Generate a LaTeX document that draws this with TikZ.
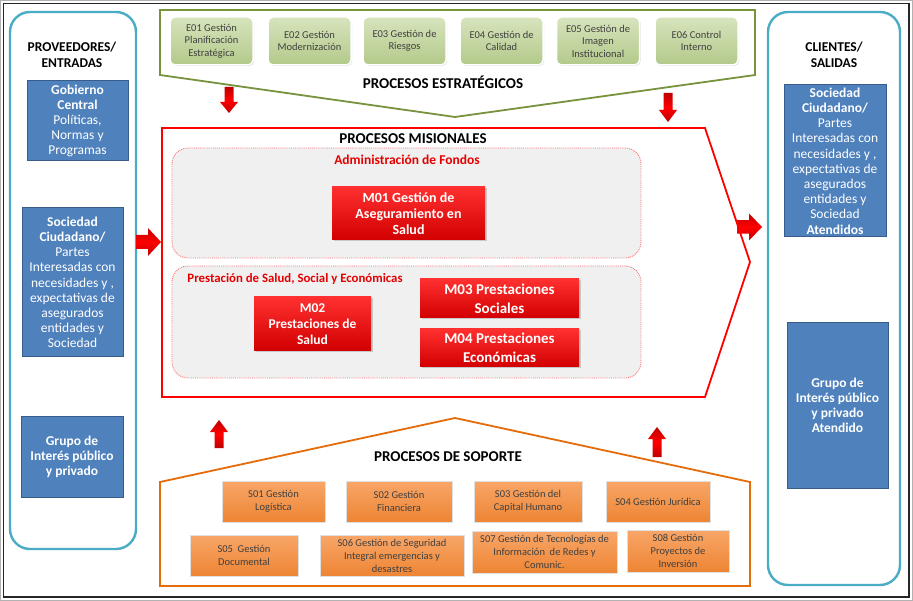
\documentclass[tikz,border=0pt]{standalone}
\usepackage{fontspec}
\setmainfont{Carlito}
\usetikzlibrary{shadows}
\definecolor{teal1}{HTML}{4BACC6}
\definecolor{blue1}{HTML}{4F81BD}
\definecolor{blue2}{HTML}{385D8A}
\definecolor{olive1}{HTML}{77933C}
\definecolor{greenA}{HTML}{D7E4BD}
\definecolor{greenB}{HTML}{B3C98A}
\definecolor{orangeA}{HTML}{F8A668}
\definecolor{orangeB}{HTML}{EE8534}
\definecolor{orange2}{HTML}{E46C0A}
\definecolor{redA}{HTML}{FF3030}
\definecolor{redB}{HTML}{D20000}
\definecolor{txtgray}{HTML}{404040}
\definecolor{dashgray}{HTML}{F0F0F0}
\tikzset{
  x=1pt, y=-1pt,
  panel/.style={draw=teal1, line width=2.4pt, rounded corners=20pt},
  head/.style={font=\fontsize{13.5}{16}\selectfont\bfseries, align=center, inner sep=0pt},
  bighead/.style={font=\fontsize{15}{17}\selectfont\bfseries, inner sep=0pt},
  bluebox/.style={draw=blue2, line width=1pt, fill=blue1, text=white, align=center,
    inner sep=0pt, font=\fontsize{13.5}{15.2}\selectfont},
  ebox/.style={top color=greenA, bottom color=greenB, draw=white, line width=1.5pt,
    rounded corners=5pt, minimum width=83pt, minimum height=48pt, align=center,
    text=txtgray, inner sep=0pt, font=\fontsize{10.5}{12.5}\selectfont,
    drop shadow={opacity=0.3, shadow xshift=1pt, shadow yshift=-1pt}},
  mbox/.style={top color=redA, bottom color=redB, draw=none, align=center, text=white,
    inner sep=0pt, font=\fontsize{14}{16}\selectfont\bfseries,
    drop shadow={opacity=0.35, shadow xshift=1.5pt, shadow yshift=-1.5pt}},
  sbox/.style={top color=orangeA, bottom color=orangeB, draw=black!12, line width=0.8pt,
    align=center, text=txtgray, inner sep=0pt, minimum height=41pt,
    font=\fontsize{10.5}{13}\selectfont,
    drop shadow={opacity=0.25, shadow xshift=1pt, shadow yshift=-1pt}},
  groupbox/.style={fill=dashgray, draw=red!55, densely dotted, line width=0.9pt, rounded corners=16pt},
  grouplabel/.style={text=red!90!black, font=\fontsize{13.5}{15}\selectfont\bfseries, inner sep=0pt},
  arrowfill/.style={top color=red!75!black, bottom color=red!75!black, middle color=red},
  pics/barrow/.style n args={3}{code={
    \path[arrowfill] (0,-#2/2) -- ({#1-#3},-#2/2) -- ({#1-#3},-#2) -- (#1,0)
      -- ({#1-#3},#2) -- ({#1-#3},#2/2) -- (0,#2/2) -- cycle;}}
}
\begin{document}
\begin{tikzpicture}
\useasboundingbox (0,0) rectangle (913,601);
\fill[white] (0,0) rectangle (913,601);
\draw[gray!60, line width=1pt] (0.5,0.5) rectangle (912.5,600.5);
\draw[black!85, line width=1.5pt] (3.5,3.5) rectangle (909,597);

% side panels
\draw[panel] (10,12) rectangle (136,549);
\draw[panel] (768,12) rectangle (900,585);
\node[head] (prov) at (72,55) {PROVEEDORES/\\ENTRADAS};
\node[head] (cli) at (834,55) {CLIENTES/\\SALIDAS};

\node[bluebox, minimum width=101pt, minimum height=80pt] (L1) at (77.5,121)
  {\textbf{Gobierno}\\\textbf{Central}\\Políticas,\\Normas y\\Programas};
\node[bluebox, minimum width=101pt, minimum height=149pt] (L2) at (72.5,282.5)
  {\textbf{Sociedad}\\\textbf{Ciudadano/}\\Partes\\Interesadas con\\necesidades y ,\\expectativas de\\asegurados\\entidades y\\Sociedad};
\node[bluebox, minimum width=102pt, minimum height=80pt] (L3) at (72,457)
  {\textbf{Grupo de}\\\textbf{Interés público}\\\textbf{y privado}};
\node[bluebox, minimum width=102pt, minimum height=152pt] (R1) at (835,161)
  {\textbf{Sociedad}\\\textbf{Ciudadano/}\\Partes\\Interesadas con\\necesidades y ,\\expectativas de\\asegurados\\entidades y\\Sociedad\\\textbf{Atendidos}};
\node[bluebox, minimum width=101pt, minimum height=165pt] (R2) at (837.5,405.5)
  {\textbf{Grupo de}\\\textbf{Interés público}\\\textbf{y privado}\\\textbf{Atendido}};

% strategic processes
\draw[olive1, line width=1.8pt, line join=miter] (160,10) -- (755,10) -- (755,75) -- (455,117) -- (160,75) -- cycle;
\node[ebox] (E01) at (211.5,41) {E01 Gestión\\Planificación\\Estratégica};
\node[ebox] (E02) at (309.5,41) {E02 Gestión\\Modernización};
\node[ebox] (E03) at (404.5,41) {E03 Gestión de\\Riesgos};
\node[ebox] (E04) at (501.5,41) {E04 Gestión de\\Calidad};
\node[ebox] (E05) at (598,41) {E05 Gestión de\\Imagen\\Institucional};
\node[ebox] (E06) at (696.5,41) {E06 Control\\Interno};
\node[bighead] (pe) at (443,82) {PROCESOS ESTRATÉGICOS};

% block arrows
\pic[rotate=-90] at (229,87) {barrow={26}{9}{11}};
\pic[rotate=-90] at (668,93) {barrow={29}{9}{12}};
\pic at (136,242) {barrow={25}{14}{13}};
\pic at (737,227) {barrow={25}{13.5}{13}};
\pic[rotate=90] at (219,448) {barrow={28}{9}{12}};
\pic[rotate=90] at (657,457) {barrow={30}{9}{12}};

% mission processes
\draw[red, line width=1.8pt, line join=miter] (162,128) -- (705,128) -- (750,262) -- (705,397) -- (162,397) -- cycle;
\node[bighead] (pm) at (413,139) {PROCESOS MISIONALES};
\draw[groupbox] (172,148) rectangle (641,258);
\draw[groupbox] (172,266) rectangle (641,378);
\node[grouplabel] (af) at (407,160) {Administración de Fondos};
\node[grouplabel, font=\fontsize{12.8}{15}\selectfont\bfseries] (ps) at (295,279) {Prestación de Salud, Social y Económicas};
\node[mbox, minimum width=153pt, minimum height=53pt] (M01) at (408.5,213.5) {M01 Gestión de\\Aseguramiento en\\Salud};
\node[mbox, minimum width=117pt, minimum height=54pt, font=\fontsize{13.5}{16}\selectfont\bfseries] (M02) at (312.5,324) {M02\\Prestaciones de\\Salud};
\node[mbox, minimum width=159pt, minimum height=39pt, font=\fontsize{15}{19}\selectfont\bfseries] (M03) at (499.5,298.5) {M03 Prestaciones\\Sociales};
\node[mbox, minimum width=159pt, minimum height=38pt, font=\fontsize{15}{19}\selectfont\bfseries] (M04) at (499.5,348) {M04 Prestaciones\\Económicas};

% support processes
\draw[orange2, line width=1.8pt, line join=miter] (160,482) -- (160,586) -- (750,586) -- (750,482) -- (455,418) -- cycle;
\node[bighead] (psop) at (448,457) {PROCESOS DE SOPORTE};
\node[sbox, minimum width=103pt] (S01) at (273.5,501.5) {S01 Gestión\\Logística};
\node[sbox, minimum width=106pt] (S02) at (399,501.5) {S02 Gestión\\Financiera};
\node[sbox, minimum width=108pt] (S03) at (528,501.5) {S03 Gestión del\\Capital Humano};
\node[sbox, minimum width=104pt] (S04) at (658,501.5) {S04 Gestión Jurídica};
\node[sbox, minimum width=108pt] (S05) at (244,555.5) {S05\ \ Gestión\\Documental};
\node[sbox, minimum width=144pt] (S06) at (392,555.5) {S06 Gestión de Seguridad\\Integral emergencias y\\desastres};
\node[sbox, minimum width=145pt, minimum height=42pt] (S07) at (544.5,552) {S07 Gestión de Tecnologías de\\Información\ \ de Redes y\\Comunic.};
\node[sbox, minimum width=102pt, minimum height=42pt] (S08) at (678,551) {S08 Gestión\\Proyectos de\\Inversión};
\end{tikzpicture}
\end{document}
